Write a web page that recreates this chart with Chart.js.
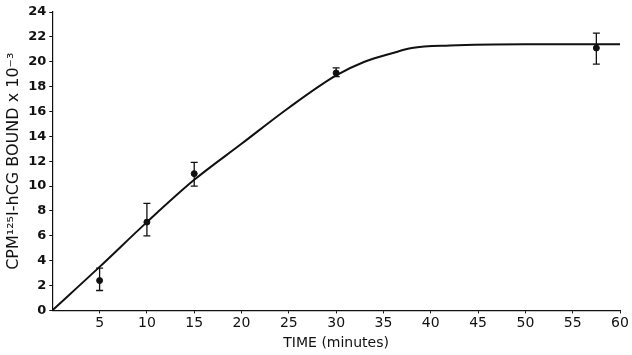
<!DOCTYPE html>
<html>
<head>
<meta charset="utf-8">
<script src="https://cdn.jsdelivr.net/npm/chart.js@4"></script>
<style>
  html, body { margin: 0; padding: 0; background: #fff; }
  #wrap { width: 632px; height: 355px; }
</style>
</head>
<body>
<div id="wrap"><canvas id="chart" width="632" height="355"></canvas></div>
<script>
// fitted binding curve
const curveX = [0, 5, 10, 15, 20, 25, 30, 33, 36, 38, 42, 50, 60];
const curveY = [0, 3.5, 7.1, 10.5, 13.4, 16.3, 18.9, 20.0, 20.7, 21.1, 21.3, 21.4, 21.4];

// measured points with error bars
const timeMin = [5, 10, 15, 30, 57.5];
const bound = [2.4, 7.1, 11.0, 19.1, 21.1];
const errLow = [1.6, 6.0, 10.0, 18.8, 19.8];
const errHigh = [3.4, 8.6, 11.9, 19.5, 22.3];

const xTicks = [5, 10, 15, 20, 25, 30, 35, 40, 45, 50, 55, 60];
const yTicks = [0, 2, 4, 6, 8, 10, 12, 14, 16, 18, 20, 22, 24];

const ink = '#111';
const fontFam = '"DejaVu Sans", Verdana, sans-serif';

// whiskers drawn through the chart's scales
const errorBars = {
    id: 'errorBars',
    afterDatasetsDraw(chart){
        const {ctx, scales:{x, y}} = chart;
        ctx.save();
        ctx.strokeStyle = ink;
        ctx.lineWidth = 1.3;
        timeMin.forEach((t, i)=>{
            const px = x.getPixelForValue(t);
            const top = y.getPixelForValue(errHigh[i]);
            const bot = y.getPixelForValue(errLow[i]);
            ctx.beginPath();
            ctx.moveTo(px, top); ctx.lineTo(px, bot);
            ctx.moveTo(px - 3.5, top); ctx.lineTo(px + 3.5, top);
            ctx.moveTo(px - 3.5, bot); ctx.lineTo(px + 3.5, bot);
            ctx.stroke();
        });
        ctx.restore();
    }
};

const ctx1 = document.getElementById('chart').getContext('2d');
const chart = new Chart(ctx1, {
    type: 'scatter',
    data: {
        datasets: [{
            label: 'fit',
            data: curveX.map((t, i)=>({x: t, y: curveY[i]})),
            showLine: true,
            borderColor: ink,
            borderWidth: 2,
            pointRadius: 0,
            cubicInterpolationMode: 'monotone',
            fill: false,
        }, {
            label: 'measured',
            data: timeMin.map((t, i)=>({x: t, y: bound[i]})),
            showLine: false,
            pointRadius: 3,
            pointBackgroundColor: ink,
            pointBorderColor: ink,
        }]
    },
    options: {
        responsive: false,
        animation: false,
        layout: { padding: { top: 12, right: 12, left: 4, bottom: 3 } },
        plugins: { legend: { display: false }, tooltip: { enabled: false } },
        scales: {
            x: {
                type: 'linear',
                min: 0,
                max: 60,
                afterBuildTicks: (axis)=>{ axis.ticks = xTicks.map(v=>({value: v})); },
                border: { display: true, color: ink, width: 1.2 },
                grid: { drawOnChartArea: false, color: ink, tickLength: 3 },
                ticks: { color: ink, font: { family: fontFam, size: 14 }, padding: 2, maxRotation: 0 },
                title: { display: true, text: 'TIME (minutes)', color: ink, font: { family: fontFam, size: 14 }, padding: { top: 1, bottom: 0 } }
            },
            y: {
                type: 'linear',
                min: 0,
                max: 24,
                afterBuildTicks: (axis)=>{ axis.ticks = yTicks.map(v=>({value: v})); },
                border: { display: true, color: ink, width: 1.2 },
                grid: { drawOnChartArea: false, color: ink, tickLength: 3 },
                ticks: { color: ink, font: { family: fontFam, size: 13, weight: 'bold' }, padding: 3 },
                title: { display: true, text: 'CPM\u00B9\u00B2\u2075I-hCG BOUND x 10\u207B\u00B3', color: ink, font: { family: fontFam, size: 16 }, padding: { top: 0, bottom: 2 } }
            }
        }
    },
    plugins: [errorBars]
});
</script>
</body>
</html>
